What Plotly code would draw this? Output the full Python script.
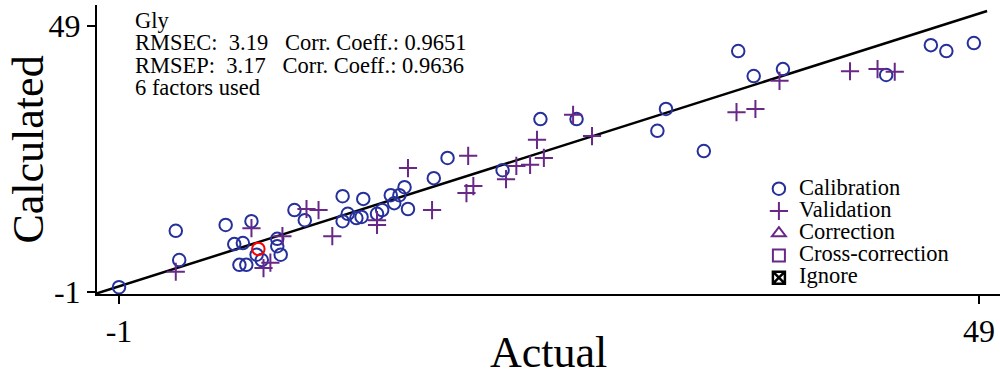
import plotly.graph_objects as go

# ---- data (Actual vs Calculated) ----
cal_actual = [-1.0, 2.3, 2.5, 5.2, 6.7, 5.7, 6.2, 6.0, 6.4, 7.0, 7.3, 8.2, 8.2, 8.4, 9.2, 9.8,
              12.0, 12.3, 12.0, 12.8, 13.1, 13.2, 14.0, 14.3, 14.8, 15.0, 15.3, 15.6, 15.8,
              17.3, 18.1, 21.3, 23.5, 25.6, 30.3, 30.8, 33.0, 35.0, 35.9, 37.6, 43.6, 46.2, 47.1, 48.7]
cal_calc = [-0.1, 10.5, 5.0, 11.6, 12.3, 8.0, 8.2, 4.1, 4.1, 6.0, 5.0, 9.0, 7.6, 6.0, 14.4, 12.5,
            17.0, 13.7, 12.3, 12.9, 13.1, 16.5, 13.7, 14.4, 17.2, 15.7, 17.2, 18.7, 14.6,
            20.4, 24.2, 21.9, 31.5, 31.5, 29.3, 33.4, 25.5, 44.3, 39.6, 40.9, 39.8, 45.4, 44.3, 45.8]

val_actual = [2.3, 6.7, 7.4, 7.8, 8.5, 9.9, 10.6, 11.4, 14.0, 14.0, 15.8, 17.2, 19.3, 19.2,
              19.6, 21.5, 22.1, 22.9, 23.3, 23.7, 25.4, 26.5, 34.9, 36.0, 37.4, 41.5, 43.1, 44.1]
val_calc = [2.8, 11.0, 3.5, 4.5, 9.5, 14.6, 14.4, 9.5, 12.5, 11.6, 22.3, 14.4, 24.6, 17.6,
            18.9, 20.2, 22.7, 22.9, 27.6, 24.2, 32.3, 28.3, 32.8, 33.4, 38.7, 40.5, 40.9, 40.4]

sel_actual = [7.1]
sel_calc = [7.1]

line_actual = [-2.4, 49.47]
line_calc = [-1.38, 51.82]

tick_vals = [-1, 49]
tick_text = ["-1", "49"]

info_lines = ["Gly",
              "RMSEC:  3.19   Corr. Coeff.: 0.9651",
              "RMSEP:  3.17   Corr. Coeff.: 0.9636",
              "6 factors used"]

legend_names = ["Calibration", "Validation", "Correction", "Cross-correction", "Ignore"]

FONT = "Liberation Serif"
BLUE = "rgb(38,48,155)"
PURPLE = "rgb(105,40,135)"

fig = go.Figure()

fig.add_trace(go.Scatter(x=line_actual, y=line_calc, mode="lines",
                         line=dict(color="black", width=2.5), showlegend=False,
                         hoverinfo="skip"))

def big(s):
    return '<span style="font-size:22.5px">' + s + '</span>'

fig.add_trace(go.Scatter(x=cal_actual, y=cal_calc, mode="markers", name=big(legend_names[0]),
                         marker=dict(symbol="circle-open", size=12.5, color=BLUE,
                                     line=dict(width=2, color=BLUE))))
fig.add_trace(go.Scatter(x=val_actual, y=val_calc, mode="markers", name=big(legend_names[1]),
                         marker=dict(symbol="cross-thin-open", size=13, color=PURPLE,
                                     line=dict(width=2, color=PURPLE))))
fig.add_trace(go.Scatter(x=[None], y=[None], mode="markers", name=big(legend_names[2]),
                         marker=dict(symbol="triangle-up-open", size=12, color=PURPLE,
                                     line=dict(width=2, color=PURPLE))))
fig.add_trace(go.Scatter(x=[None], y=[None], mode="markers", name=big(legend_names[3]),
                         marker=dict(symbol="square-open", size=12, color=PURPLE,
                                     line=dict(width=2, color=PURPLE))))
fig.add_trace(go.Scatter(x=[None], y=[None], mode="markers", name=big(legend_names[4]),
                         marker=dict(symbol="square-x-open", size=12, color="black",
                                     line=dict(width=2.5, color="black"))))
fig.add_trace(go.Scatter(x=sel_actual, y=sel_calc, mode="markers", showlegend=False,
                         marker=dict(symbol="circle-open", size=12.5, color="red",
                                     line=dict(width=2, color="red"))))

axis_common = dict(showline=True, linecolor="black", linewidth=2, ticks="outside",
                   ticklen=8, tickwidth=2, tickcolor="black", showgrid=False,
                   zeroline=False, tickvals=tick_vals, ticktext=tick_text,
                   automargin=False,
                   tickfont=dict(family=FONT, size=32, color="black"))

fig.update_layout(
    width=1000, height=380,
    margin=dict(l=97, r=0, t=5, b=86),
    paper_bgcolor="white", plot_bgcolor="white",
    xaxis=dict(range=[-2.28, 50.22], **axis_common),
    yaxis=dict(range=[-1.38, 52.95], **axis_common),
    font=dict(family=FONT, color="black"),
    legend=dict(x=0.733, y=0.42, xanchor="left", yanchor="top",
                font=dict(family=FONT, size=14.8, color="black"),
                bgcolor="rgba(0,0,0,0)", borderwidth=0, tracegroupgap=0),
)

info_text = "<br>".join(big(t) for t in info_lines)
annotations = [
    dict(text=info_text, xref="paper", yref="paper", x=0.0399, y=0.995,
         xanchor="left", yanchor="top", align="left", showarrow=False,
         font=dict(family=FONT, size=17.2, color="black")),
    dict(text="Actual", xref="paper", yref="paper", x=0.5, y=-0.2007,
         xanchor="center", yanchor="middle", showarrow=False,
         font=dict(family=FONT, size=44, color="black")),
    dict(text="Calculated", xref="paper", yref="paper", x=-0.0764, y=0.5,
         xanchor="center", yanchor="middle", textangle=-90, showarrow=False,
         font=dict(family=FONT, size=44, color="black")),
]
fig.update_layout(annotations=annotations)

fig.write_html("out.html", config={"displayModeBar": False},
               post_script="document.body.style.margin='0';document.body.style.overflow='hidden';")
